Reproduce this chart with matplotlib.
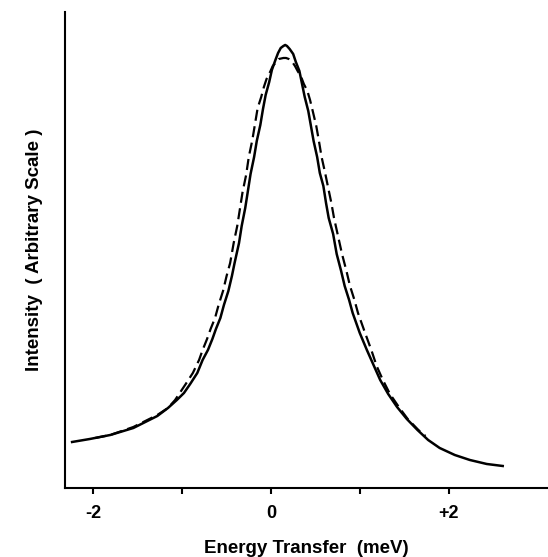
import matplotlib
matplotlib.use('Agg')
import matplotlib.pyplot as plt

plt.rcParams['font.family'] = ['Liberation Sans', 'DejaVu Sans']

# energy transfer (meV) and intensity (arbitrary units)
solid_x = [-2.24, -2.04, -1.81, -1.55, -1.28, -1.16, -1.06, -0.98, -0.91, -0.83,
           -0.77, -0.71, -0.66, -0.62, -0.57, -0.53, -0.48, -0.44, -0.41, -0.36,
           -0.33, -0.29, -0.26, -0.23, -0.19, -0.16, -0.12, -0.09, -0.06, -0.02,
           0.01, 0.05, 0.08, 0.11, 0.14, 0.16, 0.18, 0.21, 0.25, 0.28,
           0.32, 0.35, 0.38, 0.42, 0.45, 0.48, 0.52, 0.55, 0.59, 0.62,
           0.65, 0.70, 0.74, 0.79, 0.83, 0.88, 0.92, 1.00, 1.08, 1.16,
           1.23, 1.32, 1.42, 1.53, 1.65, 1.77, 1.90, 2.07, 2.24, 2.43,
           2.61]
solid_y = [46, 49, 53, 60, 72, 80, 88, 95, 104, 115,
           128, 138, 149, 159, 170, 183, 197, 212, 225, 245,
           262, 280, 297, 314, 331, 347, 363, 379, 393, 406,
           418, 428, 435, 440, 442, 443, 442, 439, 434, 426,
           417, 404, 391, 377, 362, 347, 331, 315, 302, 285,
           270, 254, 234, 217, 202, 188, 175, 155, 138, 122,
           108, 94, 81, 69, 58, 48, 40, 33, 28, 24,
           22]

dashed_x = [-1.98, -1.81, -1.55, -1.28, -1.16, -1.08, -0.96, -0.88, -0.81, -0.77,
            -0.72, -0.68, -0.63, -0.59, -0.54, -0.50, -0.46, -0.42, -0.38, -0.35,
            -0.32, -0.28, -0.25, -0.21, -0.18, -0.15, -0.11, -0.08, -0.05, -0.01,
            0.02, 0.06, 0.09, 0.14, 0.17, 0.20, 0.24, 0.27, 0.30, 0.34,
            0.37, 0.41, 0.44, 0.47, 0.51, 0.54, 0.57, 0.61, 0.64, 0.68,
            0.71, 0.75, 0.80, 0.85, 0.89, 0.94, 0.98, 1.06, 1.13, 1.19,
            1.26, 1.34, 1.44, 1.54, 1.66, 1.74]
dashed_y = [50, 53, 61, 73, 80, 88, 104, 115, 128, 138,
            149, 159, 170, 183, 197, 212, 225, 245, 262, 279,
            296, 313, 331, 348, 364, 380, 391, 401, 409, 416,
            422, 426, 429, 430, 430, 429, 426, 422, 417, 411,
            404, 397, 388, 377, 362, 347, 331, 315, 302, 285,
            270, 254, 234, 217, 202, 188, 175, 155, 138, 122,
            108, 94, 81, 69, 58, 52]

tick_pos = [-2, -1, 0, 1, 2]
tick_labels = ['-2', '', '0', '', '+2']

fig = plt.figure(figsize=(5.48, 5.57), dpi=100)
ax = fig.add_axes([0.1186, 0.1239, 0.8814, 0.8546])

ax.plot(solid_x, solid_y, color='black', lw=1.8, solid_joinstyle='round')
ax.plot(dashed_x, dashed_y, color='black', lw=1.6, linestyle=(0, (5, 2.5)))

ax.set_xlim(-2.32, 3.12)
ax.set_ylim(0, 476)

for s in ['top', 'right']:
    ax.spines[s].set_visible(False)
for s in ['left', 'bottom']:
    ax.spines[s].set_linewidth(1.5)

ax.set_xticks(tick_pos)
ax.set_xticklabels(tick_labels, fontsize=13, fontweight='bold')
ax.tick_params(axis='x', direction='out', length=4, width=1.5, pad=8)
ax.set_yticks([])

ax.set_xlabel('Energy Transfer  (meV)', fontsize=13.5, fontweight='bold', labelpad=13)
ax.set_ylabel('Intensity  ( Arbitrary Scale )', fontsize=13.5, fontweight='bold', labelpad=16)

plt.savefig('out.png', dpi=100)
